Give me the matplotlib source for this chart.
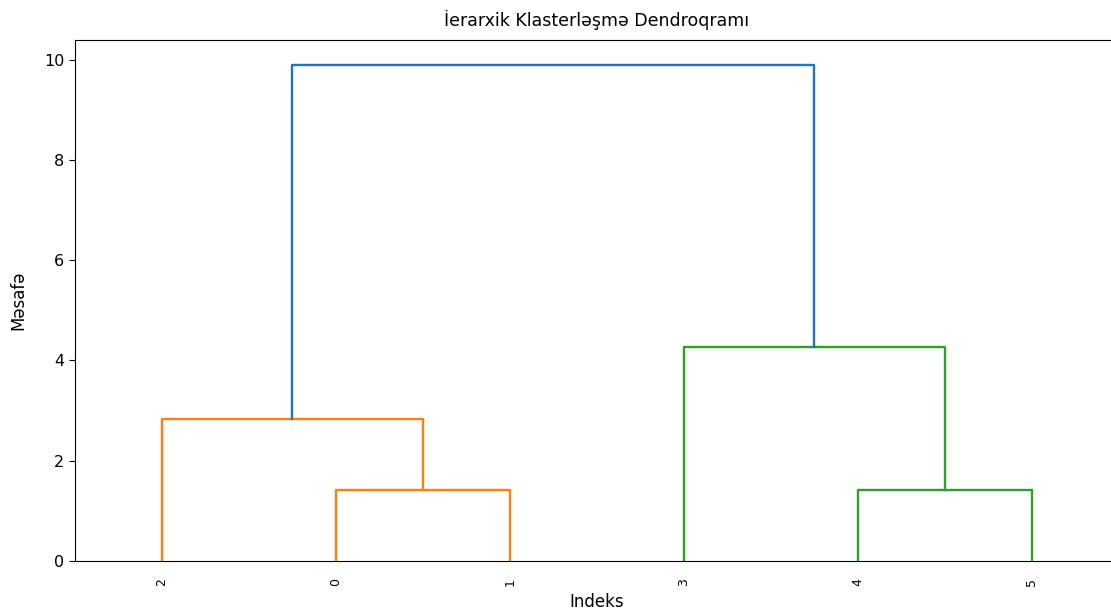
import matplotlib
matplotlib.use('Agg')
import matplotlib.pyplot as plt

# leaf order as displayed and merge steps (left, right, height)
leaf_labels = ['2', '0', '1', '3', '4', '5']
merges = [
    ('0', '1', 1.414),
    ('4', '5', 1.414),
    ('2', 'c0', 2.83),
    ('3', 'c1', 4.27),
    ('c2', 'c3', 9.90),
]
link_colors = ['#ff7f0e', '#2ca02c', '#ff7f0e', '#2ca02c', '#1f77b4']

fig = plt.figure(figsize=(11.11, 6.11), dpi=100)
ax = fig.add_axes([0.0671, 0.0818, 0.940, 0.853])

pos = {lab: 5 + 10 * i for i, lab in enumerate(leaf_labels)}
hgt = {lab: 0.0 for lab in leaf_labels}
for k, (a, b, h) in enumerate(merges):
    xa, xb = pos[a], pos[b]
    ax.plot([xa, xa, xb, xb], [hgt[a], h, h, hgt[b]], color=link_colors[k], lw=1.7)
    pos['c%d' % k] = (xa + xb) / 2
    hgt['c%d' % k] = h

ax.set_xlim(0, 10 * len(leaf_labels))
ax.set_ylim(0, max(m[2] for m in merges) * 1.05)
ax.set_xticks([pos[l] for l in leaf_labels])
ax.set_xticklabels(leaf_labels, rotation=90, fontsize=9)
ax.tick_params(axis='x', length=0, pad=12)
ax.tick_params(axis='y', labelsize=11.5, length=4)
ax.set_title('İerarxik Klasterləşmə Dendroqramı', fontsize=12.5, pad=10)
ax.set_xlabel('Indeks', fontsize=12, labelpad=5)
ax.set_ylabel('Məsafə', fontsize=12, labelpad=12)

plt.savefig('out.png', dpi=100)
